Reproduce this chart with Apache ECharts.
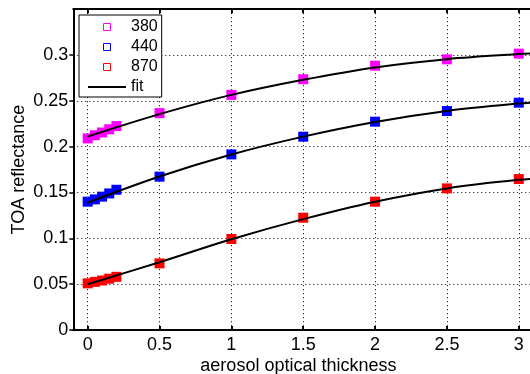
<!DOCTYPE html>
<html>
<head>
<meta charset="utf-8">
<script src="https://cdn.jsdelivr.net/npm/echarts@6/dist/echarts.min.js"></script>
<style>
html,body{margin:0;padding:0;background:#fff;}
#c{width:530px;height:374px;}
</style>
</head>
<body>
<div id="c"></div>
<script>
// Data
const xPts = [0, 0.05, 0.1, 0.15, 0.2, 0.5, 1, 1.5, 2, 2.5, 3];
const r380 = [0.209, 0.2125, 0.2155, 0.219, 0.2225, 0.2366, 0.2565, 0.2736, 0.2884, 0.2953, 0.3015];
const r440 = [0.140, 0.1425, 0.1455, 0.149, 0.153, 0.1673, 0.1916, 0.2109, 0.2273, 0.2389, 0.248];
const r870 = [0.0509, 0.0525, 0.054, 0.056, 0.058, 0.0727, 0.0993, 0.1225, 0.140, 0.1545, 0.1647];
const xFit = [0, 0.5, 1, 1.5, 2, 2.5, 3, 3.2];
const fit380 = [0.211, 0.2355, 0.2565, 0.273, 0.2865, 0.2955, 0.301, 0.3025];
const fit440 = [0.139, 0.1675, 0.1915, 0.211, 0.227, 0.239, 0.247, 0.249];
const fit870 = [0.050, 0.074, 0.099, 0.121, 0.140, 0.1545, 0.1638, 0.1655];
const xTicks = [0, 0.5, 1, 1.5, 2, 2.5, 3];
const seriesNames = ['380', '440', '870'];
const seriesColors = ['#ff00ff', '#0000ff', '#ff0000'];

const FONT = '"Liberation Sans", Arial, Helvetica, sans-serif';
const zip = (xs, ys) => xs.map((x, i) => [x, ys[i]]);

const chart = echarts.init(document.getElementById('c'), null, {renderer: 'canvas'});
const meas = [r380, r440, r870];
const fits = [fit380, fit440, fit870];

const series = [];
meas.forEach((d, i) => {
  series.push({
    name: seriesNames[i], type: 'scatter', symbol: 'rect', symbolSize: 10,
    itemStyle: {color: seriesColors[i], opacity: 1},
    data: zip(xPts, d), z: 2, silent: true
  });
});
fits.forEach((d) => {
  series.push({
    name: 'fit', type: 'line', smooth: 0.35, symbol: 'none', showSymbol: false,
    lineStyle: {color: '#000', width: 2}, itemStyle: {color: '#000'},
    data: zip(xFit, d), z: 3, silent: true
  });
});

const sq = 'path://M0,0L10,0L10,10L0,10Z';
const ln = 'path://M0,0L38,0L38,2L0,2Z';
chart.setOption({
  animation: false,
  backgroundColor: '#fff',
  textStyle: {fontFamily: FONT},
  grid: {left: 73.3, top: 9.2, width: 474.2, height: 320.8, containLabel: false, outerBoundsMode: 'none'},
  legend: {
    orient: 'vertical', left: 79, top: 15,
    padding: [4, 4, 2, 9],
    itemWidth: 38, itemHeight: 7, itemGap: 4,
    backgroundColor: '#fff', borderColor: '#000', borderWidth: 1,
    textStyle: {fontFamily: FONT, fontSize: 16, color: '#000', lineHeight: 16},
    data: [
      {name: '380', icon: sq, itemStyle: {color: 'rgba(0,0,0,0)', borderColor: seriesColors[0], borderWidth: 1}},
      {name: '440', icon: sq, itemStyle: {color: 'rgba(0,0,0,0)', borderColor: seriesColors[1], borderWidth: 1}},
      {name: '870', icon: sq, itemStyle: {color: 'rgba(0,0,0,0)', borderColor: seriesColors[2], borderWidth: 1}},
      {name: 'fit', icon: ln, itemStyle: {color: '#000', borderWidth: 0}}
    ],
    selectedMode: false
  },
  xAxis: [{
    type: 'value', position: 'bottom', min: -0.1, max: 3.2,
    name: 'aerosol optical thickness', nameLocation: 'middle', nameGap: 27, nameMoveOverlap: false,
    nameTextStyle: {fontFamily: FONT, fontSize: 18, color: '#000', padding: [0, 24, 0, 0]},
    axisLine: {show: true, onZero: false, lineStyle: {color: '#000', width: 2}},
    axisTick: {show: true, inside: true, length: 4, customValues: xTicks, lineStyle: {color: '#000', width: 2}},
    axisLabel: {show: true, customValues: xTicks, margin: 6, fontFamily: FONT, fontSize: 18, color: '#000'},
    splitLine: {show: true, lineStyle: {color: '#000', width: 1, type: [1, 3]}}
  }, {
    type: 'value', position: 'top', min: -0.1, max: 3.2,
    axisLine: {show: true, onZero: false, lineStyle: {color: '#000', width: 2}},
    axisTick: {show: true, inside: true, length: 4, customValues: xTicks, lineStyle: {color: '#000', width: 2}},
    axisLabel: {show: false, customValues: xTicks},
    splitLine: {show: false}
  }],
  yAxis: {
    type: 'value', min: 0, max: 0.35, interval: 0.05,
    name: 'TOA reflectance', nameLocation: 'middle', nameGap: 45, nameMoveOverlap: false,
    nameTextStyle: {fontFamily: FONT, fontSize: 18, color: '#000'},
    axisLine: {show: true, onZero: false, lineStyle: {color: '#000', width: 2}},
    axisTick: {show: true, inside: false, length: 4, lineStyle: {color: '#000', width: 1.5}},
    axisLabel: {show: true, showMaxLabel: false, margin: 5, fontFamily: FONT, fontSize: 18, color: '#000'},
    splitLine: {show: true, lineStyle: {color: '#000', width: 1, type: [1, 3]}}
  },
  series: series
});
</script>
</body>
</html>
